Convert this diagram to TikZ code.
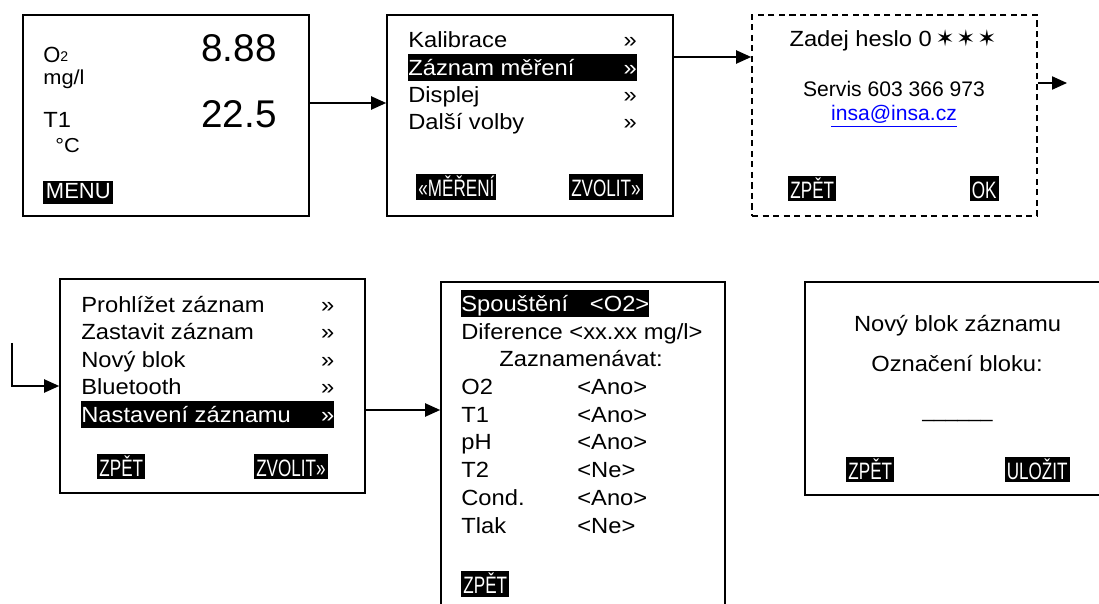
\documentclass[tikz,border=0pt]{standalone}
\usepackage{fontspec}
\setmainfont{Liberation Sans}[FakeStretch=1.08]
\newfontfamily\plainfont{Liberation Sans}
\newfontfamily\narrowfont{Liberation Sans}[FakeStretch=0.72]
\newfontfamily\starfont{DejaVu Sans}
\usetikzlibrary{arrows.meta,calc}
\newcommand\menuline[2][130pt]{\hbox to #1{#2\hfill»}}
\tikzset{
  flowarrow/.style={-{Triangle[length=8.5pt,width=7.5pt]}, line width=0.8pt},
  screen/.style={draw, line width=1pt, inner sep=0pt, fill=white},
  dashscreen/.style={screen, dash pattern=on 3.5pt off 2.5pt},
  txt/.style={anchor=base west, inner sep=0pt, font=\fontsize{12.5}{15}\selectfont},
  midtxt/.style={txt, anchor=base},
  plaintxt/.style={midtxt, font=\plainfont\fontsize{12}{14}\selectfont},
  selitem/.style={txt, fill=black, text=white, text height=12.5pt, text depth=2.7pt},
  softkey/.style={fill=black, text=white, inner sep=0pt, inner xsep=1.2pt, text height=12.8pt, text depth=1.6pt, font=\narrowfont\fontsize{13.5}{15}\selectfont},
  bignum/.style={anchor=base east, inner sep=0pt, font=\plainfont\fontsize{22}{26}\selectfont}
}
\begin{document}
\begin{tikzpicture}[x=0.02cm, y=-0.02cm]
  \useasboundingbox (0,0) rectangle (1099,604);
  \clip (0,0) rectangle (1099,604);

  \node[screen, minimum width=5.72cm, minimum height=4.02cm] (scr1) at (166,115.5) {};
  \node[screen, minimum width=5.72cm, minimum height=4.02cm] (scr2) at (530,115.5) {};
  \node[dashscreen, minimum width=5.7cm, minimum height=4.02cm] (scr3) at (894.5,115.5) {};
  \node[screen, minimum width=6.1cm, minimum height=4.28cm] (scr4) at (212.5,386) {};
  \node[screen, minimum width=5.68cm, minimum height=7.16cm] (scr5) at (583,461) {};
  \node[screen, minimum width=6.3cm, minimum height=4.26cm] (scr6) at (962.5,388.5) {};

  \node[txt, font=\plainfont\fontsize{12.5}{15}\selectfont] (o2lbl) at (43,63) {O\raisebox{0.6pt}{\fontsize{8}{9}\selectfont 2}};
  \node[txt, font=\fontsize{11.5}{13}\selectfont] (mgl) at (43,85) {mg/l};
  \node[txt] (t1lbl) at (43,128) {T1};
  \node[txt, font=\fontsize{11.5}{13}\selectfont] (degc) at (55,153) {°C};
  \node[bignum] (o2val) at (277,62) {8.88};
  \node[bignum] (t1val) at (277,128) {22.5};
  \node[softkey, anchor=west, inner xsep=1.5pt, text height=10pt, text depth=3pt, font=\plainfont\fontsize{12.5}{14}\selectfont] (menukey) at (43,192.5) {MENU};

  \node[txt] (kal) at (408,48) {\menuline{Kalibrace}};
  \node[selitem] (zaz) at (408,76) {\menuline{Záznam měření}};
  \node[txt] (disp) at (408,103) {\menuline{Displej}};
  \node[txt] (dalsi) at (408,130) {\menuline{Další volby}};
  \node[softkey, anchor=west] (merkey) at (416,187) {«MĚŘENÍ};
  \node[softkey, anchor=east] (zvkey) at (643,187) {ZVOLIT»};

  \node[midtxt] (heslo) at (893,47) {Zadej heslo 0\,{\starfont\fontsize{13}{15}\selectfont ✶\hspace{1pt}✶\hspace{1pt}✶}};
  \node[plaintxt] (servis) at (894,97) {Servis 603 366 973};
  \node[plaintxt, text={rgb,255:red,0;green,0;blue,255}] (mail) at (894,121) {\underline{insa@insa.cz}};
  \node[softkey, anchor=west] (zpet3) at (788,188.5) {ZPĚT};
  \node[softkey, anchor=east] (okkey) at (999,188.5) {OK};

  \node[txt] (prohl) at (81,313) {\menuline[144pt]{Prohlížet záznam}};
  \node[txt] (zast) at (81,340) {\menuline[144pt]{Zastavit záznam}};
  \node[txt] (novy) at (81,368) {\menuline[144pt]{Nový blok}};
  \node[txt] (bt) at (81,395) {\menuline[144pt]{Bluetooth}};
  \node[selitem] (nast) at (81,423) {\menuline[144pt]{Nastavení záznamu}};
  \node[softkey, anchor=west] (zpet4) at (97,466.5) {ZPĚT};
  \node[softkey, anchor=east] (zvkey4) at (328,466.5) {ZVOLIT»};

  \node[selitem] (spoust) at (461,312) {\hbox to 107pt{Spouštění\hfill<O2>}};
  \node[txt] (dif) at (461,340) {Diference <xx.xx mg/l>};
  \node[txt] (zazn) at (499,367) {Zaznamenávat:};
  \node[txt] (ch1) at (461,395) {O2};
  \node[txt] (ch1v) at (577,395) {<Ano>};
  \node[txt] (ch2) at (461,423) {T1};
  \node[txt] (ch2v) at (577,423) {<Ano>};
  \node[txt] (ch3) at (461,450) {pH};
  \node[txt] (ch3v) at (577,450) {<Ano>};
  \node[txt] (ch4) at (461,478) {T2};
  \node[txt] (ch4v) at (577,478) {<Ne>};
  \node[txt] (ch5) at (461,505) {Cond.};
  \node[txt] (ch5v) at (577,505) {<Ano>};
  \node[txt] (ch6) at (461,533) {Tlak};
  \node[txt] (ch6v) at (577,533) {<Ne>};
  \node[softkey, anchor=west] (zpet5) at (461,584) {ZPĚT};

  \node[midtxt] (blok) at (957.5,332) {Nový blok záznamu};
  \node[midtxt] (oznac) at (957,372) {Označení bloku:};
  \node[plaintxt] (blank) at (957.5,418) {\_\_\_\_\_\_};
  \node[softkey, anchor=west] (zpet6) at (846,469.5) {ZPĚT};
  \node[softkey, anchor=east] (ulozkey) at (1070,469.5) {ULOŽIT};

  \coordinate (a1) at ($(scr1.east)+(0,-12.5)$);
  \coordinate (a2) at ($(scr2.east)+(0,-58.5)$);
  \coordinate (a3) at ($(scr3.east)+(0,-32.5)$);
  \coordinate (out3) at (1067,83);
  \coordinate (in4) at (12,343);
  \coordinate (a5) at ($(scr4.east)+(0,24)$);
  \draw[flowarrow] (a1) -- (a1 -| scr2.west);
  \draw[flowarrow] (a2) -- (a2 -| scr3.west);
  \draw[flowarrow] (a3) -- (out3);
  \draw[flowarrow] (in4) |- (scr4.west);
  \draw[flowarrow] (a5) -- (a5 -| scr5.west);
\end{tikzpicture}
\end{document}
